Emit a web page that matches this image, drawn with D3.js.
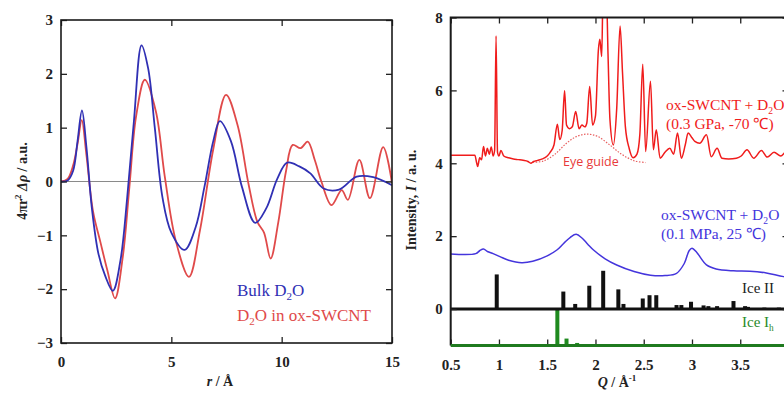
<!DOCTYPE html>
<html>
<head>
<meta charset="utf-8">
<script src="https://cdn.jsdelivr.net/npm/d3@7"></script>
<style>
  body { margin: 0; background: #fff; }
  svg { display: block; }
  .tick text { font-family: "Liberation Serif", "Times New Roman", serif; font-weight: bold; font-size: 15px; fill: #222; }
</style>
</head>
<body>
<svg id="chart" width="784" height="393"></svg>
<script>
// ---- left panel: 4πr²Δρ vs r ----
const rBulk = [0, 0.3, 0.55, 0.75, 0.95, 1.15, 1.4, 1.7, 2.0, 2.35, 2.7, 3.0, 3.3, 3.65, 3.95, 4.25, 4.6, 5.0, 5.6, 6.1, 6.5, 6.9, 7.2, 7.7, 8.2, 8.8, 9.3, 9.8, 10.25, 10.8, 11.3, 11.9, 12.6, 13.4, 14.15, 15];
const vBulk = [0, 0.02, 0.2, 0.75, 1.32, 0.65, -0.5, -1.35, -1.75, -2.03, -1.45, -0.3, 1.1, 2.53, 2.1, 1.0, -0.3, -0.95, -1.27, -0.85, -0.1, 0.75, 1.12, 0.75, -0.1, -0.77, -0.5, 0.05, 0.35, 0.28, 0.15, -0.13, -0.15, 0.09, 0.08, -0.07];

const rSwcnt = [0, 0.3, 0.55, 0.75, 0.94, 1.15, 1.45, 1.8, 2.1, 2.45, 2.8, 3.1, 3.4, 3.8, 4.3, 4.7, 5.2, 5.8, 6.3, 6.9, 7.48, 8.0, 8.5, 8.9, 9.2, 9.5, 9.85, 10.2, 10.5, 10.86, 11.18, 11.5, 11.8, 12.26, 12.72, 13.0, 13.52, 14.0, 14.6, 15];
const vSwcnt = [0, 0.05, 0.3, 0.7, 1.14, 0.5, -0.55, -1.15, -1.65, -2.17, -1.4, -0.1, 1.2, 1.89, 1.3, 0.1, -1.1, -1.77, -0.9, 0.6, 1.61, 1.05, -0.05, -0.75, -0.95, -1.43, -0.75, 0.2, 0.68, 0.62, 0.74, 0.4, 0.0, -0.44, -0.16, -0.34, 0.40, -0.31, 0.64, -0.03];

const leftXTicks = [0, 5, 10, 15];
const leftYTicks = [-3, -2, -1, 0, 1, 2, 3];

// ---- right panel: intensity vs Q ----
const qHigh = [0.5, 0.75, 0.77, 0.78, 0.8, 0.82, 0.84, 0.86, 0.88, 0.9, 0.92, 0.94, 0.955, 0.97, 0.985, 1.0, 1.02, 1.05, 1.1, 1.15, 1.2, 1.25, 1.3, 1.33, 1.36, 1.4, 1.45, 1.5, 1.53, 1.57, 1.605, 1.63, 1.655, 1.68, 1.7, 1.73, 1.76, 1.795, 1.83, 1.86, 1.89, 1.91, 1.94, 1.97, 2.0, 2.03, 2.045, 2.065, 2.08, 2.11, 2.13, 2.15, 2.185, 2.22, 2.255, 2.28, 2.31, 2.35, 2.39, 2.43, 2.46, 2.49, 2.52, 2.57, 2.6, 2.63, 2.67, 2.72, 2.77, 2.81, 2.85, 2.89, 2.93, 2.96, 3.0, 3.03, 3.08, 3.15, 3.2, 3.26, 3.31, 3.38, 3.46, 3.51, 3.57, 3.64, 3.72, 3.78, 3.85, 3.92, 3.98, 4.05];
const iHigh = [4.22, 4.22, 4.0, 3.91, 4.15, 4.1, 4.46, 4.2, 4.41, 4.25, 4.45, 4.2, 4.35, 7.5, 4.3, 4.2, 4.35, 4.2, 4.15, 4.12, 4.1, 4.08, 4.05, 4.0, 4.05, 4.08, 4.12, 4.2, 4.3, 4.5, 5.07, 4.65, 4.9, 5.99, 5.05, 4.95, 5.0, 5.42, 4.95, 5.05, 5.0, 5.1, 6.11, 5.05, 5.3, 7.1, 7.4, 6.93, 9.0, 9.0, 7.0, 5.2, 4.5, 5.5, 7.77, 6.5, 5.0, 4.4, 4.15, 4.25, 4.8, 6.72, 4.32, 6.25, 4.37, 4.92, 4.14, 4.3, 4.41, 4.25, 4.83, 4.14, 4.5, 4.83, 4.7, 4.6, 4.55, 4.78, 4.18, 4.41, 4.14, 4.12, 4.14, 4.2, 4.37, 4.14, 4.35, 4.17, 4.3, 4.2, 4.32, 4.25];

const qGuide = [1.35, 1.46, 1.58, 1.7, 1.8, 1.91, 2.02, 2.15, 2.27, 2.4, 2.52];
const iGuide = [4.03, 4.06, 4.25, 4.55, 4.73, 4.8, 4.74, 4.5, 4.25, 4.07, 4.02];

const qAmb = [0.5, 0.76, 0.8, 0.84, 0.88, 0.94, 1.01, 1.1, 1.235, 1.35, 1.5, 1.6, 1.67, 1.74, 1.8, 1.86, 1.92, 1.98, 2.1, 2.22, 2.4, 2.57, 2.72, 2.84, 2.92, 2.97, 3.0, 3.05, 3.15, 3.25, 3.43, 3.6, 3.77, 3.95, 4.1];
const iAmb = [1.51, 1.52, 1.6, 1.65, 1.58, 1.52, 1.44, 1.34, 1.27, 1.31, 1.46, 1.62, 1.8, 1.97, 2.05, 1.95, 1.78, 1.62, 1.38, 1.21, 1.03, 0.93, 0.92, 0.98, 1.25, 1.6, 1.67, 1.55, 1.21, 1.1, 1.05, 1.04, 0.99, 0.89, 0.85];

const qIce2 = [0.977, 1.667, 1.79, 1.936, 2.08, 2.237, 2.29, 2.49, 2.56, 2.63, 2.84, 2.89, 2.99, 3.12, 3.17, 3.26, 3.43, 3.55, 3.58, 3.75, 3.9];
const hIce2 = [0.95, 0.48, 0.14, 0.64, 1.05, 0.54, 0.14, 0.29, 0.38, 0.38, 0.11, 0.11, 0.2, 0.1, 0.08, 0.08, 0.22, 0.08, 0.06, 0.04, 0.04];

const qIce1h = [1.605, 1.70, 1.81];
const hIce1h = [1.0, 0.19, 0.07];

const rightXTicks = [0.5, 1, 1.5, 2, 2.5, 3, 3.5, 4];
const rightYTicks = [0, 2, 4, 6, 8];

const serif = '"Liberation Serif", "Times New Roman", serif';
const svg = d3.select("#chart");

// ================= left panel =================
const L = { left: 61, right: 392, top: 20, bottom: 343 };
const xL = d3.scaleLinear().domain([0, 15]).range([L.left, L.right]);
const yL = d3.scaleLinear().domain([-3, 3]).range([L.bottom, L.top]);

const gL = svg.append("g");
gL.append("defs").append("clipPath").attr("id", "clipL")
  .append("rect").attr("x", L.left).attr("y", L.top)
  .attr("width", L.right - L.left).attr("height", L.bottom - L.top);

gL.append("line")
  .attr("x1", xL(0)).attr("x2", xL(15))
  .attr("y1", yL(0)).attr("y2", yL(0))
  .attr("stroke", "#8a8a8a").attr("stroke-width", 1);

const lineL = (xs, ys) => d3.line().curve(d3.curveCatmullRom.alpha(0.5))
  .x((d, i) => xL(xs[i])).y((d, i) => yL(ys[i]))(xs);

gL.append("path").attr("d", lineL(rSwcnt, vSwcnt))
  .attr("fill", "none").attr("stroke", "#e04a4a").attr("stroke-width", 1.8)
  .attr("clip-path", "url(#clipL)");
gL.append("path").attr("d", lineL(rBulk, vBulk))
  .attr("fill", "none").attr("stroke", "#3030b4").attr("stroke-width", 1.8)
  .attr("clip-path", "url(#clipL)");

function styleAxis(g, width) {
  g.select(".domain").remove();
  g.selectAll(".tick line").attr("stroke", "#222").attr("stroke-width", width || 1.3);
}

gL.append("g").attr("transform", `translate(0,${L.bottom})`)
  .call(d3.axisBottom(xL).tickValues(leftXTicks).tickSizeInner(-6).tickPadding(13).tickFormat(d3.format("d")))
  .call(styleAxis);
gL.append("g").attr("transform", `translate(0,${L.top})`)
  .call(d3.axisTop(xL).tickValues(leftXTicks).tickSizeInner(-6).tickFormat(""))
  .call(styleAxis);
gL.append("g").attr("transform", `translate(${L.left},0)`)
  .call(d3.axisLeft(yL).tickValues(leftYTicks).tickSizeInner(-6).tickPadding(8).tickFormat(d3.format("d")))
  .call(styleAxis);
gL.append("g").attr("transform", `translate(${L.right},0)`)
  .call(d3.axisRight(yL).tickValues(leftYTicks).tickSizeInner(-6).tickFormat(""))
  .call(styleAxis);

gL.append("rect")
  .attr("x", L.left).attr("y", L.top)
  .attr("width", L.right - L.left).attr("height", L.bottom - L.top)
  .attr("fill", "none").attr("stroke", "#1a1a1a").attr("stroke-width", 1.6);

// legend
const legBulk = gL.append("text").attr("x", 237).attr("y", 296)
  .attr("font-family", serif).attr("font-size", 17).attr("fill", "#3030b4");
legBulk.append("tspan").text("Bulk D");
legBulk.append("tspan").attr("font-size", 11).attr("dy", 4).text("2");
legBulk.append("tspan").attr("dy", -4).text("O");

const legSw = gL.append("text").attr("x", 237).attr("y", 321)
  .attr("font-family", serif).attr("font-size", 17).attr("fill", "#e04a4a");
legSw.append("tspan").text("D");
legSw.append("tspan").attr("font-size", 11).attr("dy", 4).text("2");
legSw.append("tspan").attr("dy", -4).text("O in ox-SWCNT");

// axis labels
const xLabL = gL.append("text").attr("x", 220).attr("y", 386)
  .attr("text-anchor", "middle").attr("font-family", serif)
  .attr("font-size", 14).attr("font-weight", "bold").attr("fill", "#222");
xLabL.append("tspan").attr("font-style", "italic").text("r");
xLabL.append("tspan").text(" / Å");

const yLabL = gL.append("text")
  .attr("transform", "translate(27,181) rotate(-90)")
  .attr("text-anchor", "middle").attr("font-family", serif)
  .attr("font-size", 14).attr("font-weight", "bold").attr("fill", "#222");
yLabL.append("tspan").text("4πr");
yLabL.append("tspan").attr("font-size", 9).attr("dy", -6).text("2");
yLabL.append("tspan").attr("dy", 6).attr("font-style", "italic").text(" Δρ");
yLabL.append("tspan").text(" / a.u.");

// ================= right panel =================
const R = { left: 450.7, right: 788.5, top: 17.5, bottom: 345.5 };
const xR = d3.scaleLinear().domain([0.5, 4]).range([R.left, R.right]);
const yR = d3.scaleLinear().domain([-1, 8]).range([R.bottom, R.top]);

const gR = svg.append("g");
gR.append("defs").append("clipPath").attr("id", "clipR")
  .append("rect").attr("x", R.left).attr("y", R.top)
  .attr("width", R.right - R.left).attr("height", R.bottom - R.top);

const lineR = (xs, ys, curve) => d3.line().curve(curve)
  .x((d, i) => xR(xs[i])).y((d, i) => yR(ys[i]))(xs);

// Ice II sticks
gR.append("g").selectAll("rect").data(qIce2).join("rect")
  .attr("x", d => xR(d) - 2).attr("width", 4)
  .attr("y", (d, i) => yR(hIce2[i])).attr("height", (d, i) => yR(0) - yR(hIce2[i]))
  .attr("fill", "#111");
// Ice Ih sticks
gR.append("g").selectAll("rect").data(qIce1h).join("rect")
  .attr("x", d => xR(d) - 2).attr("width", 4)
  .attr("y", (d, i) => yR(-1 + hIce1h[i])).attr("height", (d, i) => yR(-1) - yR(-1 + hIce1h[i]))
  .attr("fill", "#1f8a1f");

gR.append("line")
  .attr("x1", R.left).attr("x2", R.right).attr("y1", yR(0)).attr("y2", yR(0))
  .attr("stroke", "#111").attr("stroke-width", 3);

gR.append("path").attr("d", lineR(qGuide, iGuide, d3.curveCatmullRom))
  .attr("fill", "none").attr("stroke", "#e86060").attr("stroke-width", 1.2)
  .attr("stroke-dasharray", "1.5,1.5");

gR.append("path").attr("d", lineR(qAmb, iAmb, d3.curveCatmullRom))
  .attr("fill", "none").attr("stroke", "#4435dc").attr("stroke-width", 1.5)
  .attr("clip-path", "url(#clipR)");
gR.append("path").attr("d", lineR(qHigh, iHigh, d3.curveMonotoneX))
  .attr("fill", "none").attr("stroke", "#f01c1c").attr("stroke-width", 1.5)
  .attr("clip-path", "url(#clipR)");

gR.append("g").attr("transform", `translate(0,${R.bottom})`)
  .call(d3.axisBottom(xR).tickValues(rightXTicks).tickSizeInner(-6).tickPadding(14).tickFormat(d => d))
  .call(styleAxis);
gR.append("g").attr("transform", `translate(0,${R.top})`)
  .call(d3.axisTop(xR).tickValues(rightXTicks).tickSizeInner(-6).tickFormat(""))
  .call(styleAxis);
gR.append("g").attr("transform", `translate(${R.left},0)`)
  .call(d3.axisLeft(yR).tickValues(rightYTicks).tickSizeInner(-6).tickPadding(8).tickFormat(d3.format("d")))
  .call(styleAxis);
gR.append("g").attr("transform", `translate(${R.right},0)`)
  .call(d3.axisRight(yR).tickValues(rightYTicks).tickSizeInner(-6).tickFormat(""))
  .call(styleAxis);

// frame: black left/top, green bottom
gR.append("path")
  .attr("d", `M${R.left},${R.bottom}V${R.top}H${R.right}`)
  .attr("fill", "none").attr("stroke", "#1a1a1a").attr("stroke-width", 2);
gR.append("line")
  .attr("x1", R.left).attr("x2", R.right).attr("y1", R.bottom).attr("y2", R.bottom)
  .attr("stroke", "#1f7a1f").attr("stroke-width", 3);

// labels
function labelWithSub(g, x, y, before, sub, after, color, size) {
  const t = g.append("text").attr("x", x).attr("y", y)
    .attr("font-family", serif).attr("font-size", size).attr("fill", color);
  t.append("tspan").text(before);
  t.append("tspan").attr("font-size", size * 0.62).attr("dy", 4).text(sub);
  t.append("tspan").attr("dy", -4).text(after);
  return t;
}

labelWithSub(gR, 666, 110, "ox-SWCNT + D", "2", "O", "#f01c1c", 15.5);
gR.append("text").attr("x", 666).attr("y", 129).attr("font-family", serif)
  .attr("font-size", 15.5).attr("fill", "#f01c1c").text("(0.3 GPa, -70 ℃)");
gR.append("text").attr("x", 563).attr("y", 166).attr("font-family", '"Open Sans", "Noto Sans", sans-serif')
  .attr("font-size", 12.5).attr("fill", "#e83a3a").text("Eye guide");

labelWithSub(gR, 661, 220, "ox-SWCNT + D", "2", "O", "#4435dc", 15.5);
gR.append("text").attr("x", 661).attr("y", 239).attr("font-family", serif)
  .attr("font-size", 15.5).attr("fill", "#4435dc").text("(0.1 MPa, 25 ℃)");

gR.append("text").attr("x", 742).attr("y", 293).attr("font-family", serif)
  .attr("font-size", 15).attr("fill", "#222").text("Ice II");
labelWithSub(gR, 742, 327, "Ice I", "h", "", "#2a8a2a", 15);

const xLabR = gR.append("text").attr("x", 617).attr("y", 387)
  .attr("text-anchor", "middle").attr("font-family", serif)
  .attr("font-size", 14).attr("font-weight", "bold").attr("fill", "#222");
xLabR.append("tspan").attr("font-style", "italic").text("Q");
xLabR.append("tspan").text(" / Å");
xLabR.append("tspan").attr("font-size", 9).attr("dy", -6).text("-1");

const yLabR = gR.append("text")
  .attr("transform", "translate(416,200) rotate(-90)")
  .attr("text-anchor", "middle").attr("font-family", serif)
  .attr("font-size", 14).attr("font-weight", "bold").attr("fill", "#222");
yLabR.append("tspan").text("Intensity, ");
yLabR.append("tspan").attr("font-style", "italic").text("I");
yLabR.append("tspan").text(" / a. u.");
</script>
</body>
</html>
